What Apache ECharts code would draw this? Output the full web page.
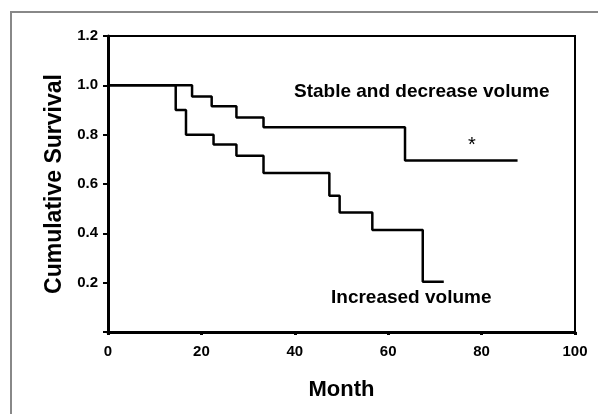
<!DOCTYPE html>
<html lang="en">
<head>
    <meta charset="UTF-8">
    <title>Cumulative Survival</title>
    <style>
        body { margin: 0; background: #fff; }
        #chart { width: 598px; height: 414px; }
    </style>
</head>
<body>
    <div id="chart"></div>
    <script src="https://cdn.jsdelivr.net/npm/echarts@6/dist/echarts.min.js"></script>
    <script>
        // Kaplan-Meier steps: [month, survival]
        const stableMonths = [0, 18, 22.2, 27.5, 33.3, 63.6, 87.7];
        const stableSurvival = [1.0, 0.955, 0.915, 0.87, 0.83, 0.695, 0.695];
        const increasedMonths = [0, 14.5, 16.7, 22.6, 27.5, 33.3, 47.4, 49.6, 56.6, 67.4, 71.9];
        const increasedSurvival = [1.0, 0.90, 0.80, 0.76, 0.715, 0.645, 0.552, 0.484, 0.414, 0.204, 0.204];
        const yTicks = [0, 0.2, 0.4, 0.6, 0.8, 1.0, 1.2];

        const zip = (xs, ys) => xs.map((x, i) => [x, ys[i]]);
        const font = 'Arial, "Liberation Sans", sans-serif';

        const chart = echarts.init(document.getElementById('chart'));

        const option = {
            animation: false,
            grid: {
                left: 108, right: 23, top: 36, bottom: 82,
                show: true, borderColor: '#000', borderWidth: 2
            },
            xAxis: {
                type: 'value', min: 0, max: 100, interval: 20,
                name: 'Month', nameLocation: 'middle', nameGap: 47,
                nameTextStyle: { fontFamily: font, fontWeight: 'bold', fontSize: 22, color: '#000' },
                axisLine: { show: true, lineStyle: { color: '#000', width: 3 } },
                axisTick: { show: true, length: 3, lineStyle: { color: '#000', width: 3 } },
                axisLabel: { margin: 12, fontFamily: font, fontWeight: 'bold', fontSize: 15, color: '#000' },
                splitLine: { show: false }
            },
            yAxis: {
                type: 'value', min: yTicks[0], max: yTicks[yTicks.length - 1], interval: 0.2,
                name: 'Cumulative Survival', nameLocation: 'middle', nameGap: 39,
                nameTextStyle: { fontFamily: font, fontWeight: 'bold', fontSize: 23, color: '#000' },
                axisLine: { show: true, lineStyle: { color: '#000', width: 3 } },
                axisTick: { show: true, length: 5, lineStyle: { color: '#000', width: 2 } },
                axisLabel: {
                    margin: 10, fontFamily: font, fontWeight: 'bold', fontSize: 15, color: '#000',
                    formatter: v => (v === 0 ? '' : v.toFixed(1))
                },
                splitLine: { show: false }
            },
            series: [
                {
                    name: 'Stable and decrease volume', type: 'line', step: 'end',
                    data: zip(stableMonths, stableSurvival),
                    symbol: 'none', lineStyle: { color: '#000', width: 2.5 }
                },
                {
                    name: 'Increased volume', type: 'line', step: 'end',
                    data: zip(increasedMonths, increasedSurvival),
                    symbol: 'none', lineStyle: { color: '#000', width: 2.5 }
                }
            ],
            graphic: [
                {
                    type: 'polyline',
                    shape: { points: [[11, 414], [11, 12], [598, 12]] },
                    style: { stroke: '#888', lineWidth: 2, fill: null }
                },
                {
                    type: 'text', left: 294, top: 82,
                    style: { text: 'Stable and decrease volume', font: 'bold 19px ' + font, fill: '#000' }
                },
                {
                    type: 'text', left: 468, top: 135,
                    style: { text: '*', font: '20px ' + font, fill: '#000' }
                },
                {
                    type: 'text', left: 331, top: 288,
                    style: { text: 'Increased volume', font: 'bold 19px ' + font, fill: '#000' }
                }
            ]
        };
        chart.setOption(option);
    </script>
</body>
</html>
